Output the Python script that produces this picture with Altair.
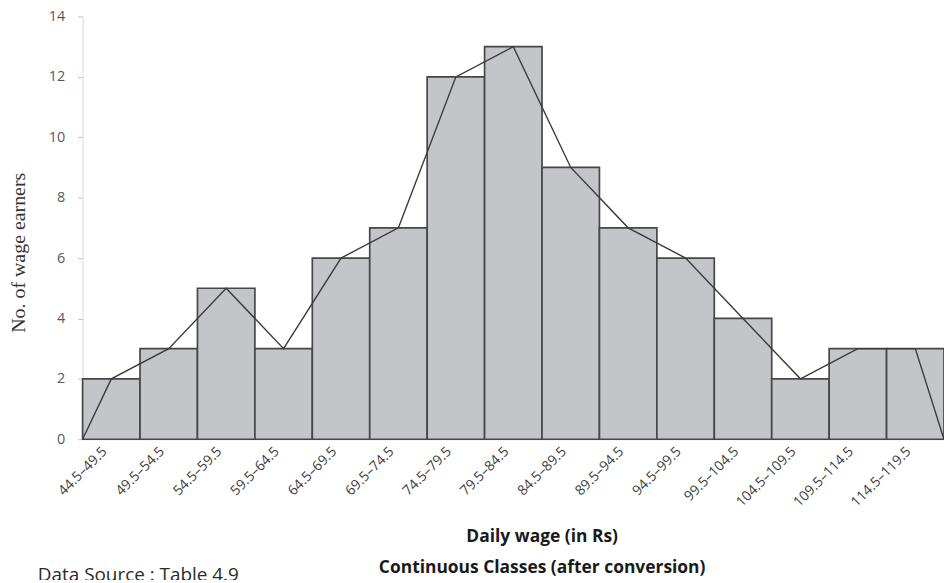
import altair as alt
import pandas as pd

lower = [44.5, 49.5, 54.5, 59.5, 64.5, 69.5, 74.5, 79.5, 84.5, 89.5, 94.5, 99.5, 104.5, 109.5, 114.5]
upper = [49.5, 54.5, 59.5, 64.5, 69.5, 74.5, 79.5, 84.5, 89.5, 94.5, 99.5, 104.5, 109.5, 114.5, 119.5]
freq = [2, 3, 5, 3, 6, 7, 12, 13, 9, 7, 6, 4, 2, 3, 3]
labels = ["44.5–49.5", "49.5–54.5", "54.5–59.5", "59.5–64.5", "64.5–69.5", "69.5–74.5",
          "74.5–79.5", "79.5–84.5", "84.5–89.5", "89.5–94.5", "94.5–99.5", "99.5–104.5",
          "104.5–109.5", "109.5–114.5", "114.5–119.5"]

mids = [(a + b) / 2 for a, b in zip(lower, upper)]
bars_df = pd.DataFrame({"lo": lower, "hi": upper, "f": freq, "mid": mids})

poly_x = [lower[0]] + mids + [upper[-1]]
poly_y = [0] + freq + [0]
poly_df = pd.DataFrame({"x": poly_x, "y": poly_y, "o": list(range(len(poly_x)))})

label_expr = ("[" + ",".join("'%s'" % l for l in labels) + "][indexof(["
              + ",".join(repr(m) for m in mids) + "], datum.value)]")

xscale = alt.Scale(domain=[lower[0], upper[-1]], nice=False, zero=False, padding=0)
yscale = alt.Scale(domain=[0, 14], nice=False)

xaxis = alt.Axis(values=mids, labelExpr=label_expr, labelAngle=-45, ticks=False,
                 grid=False, domainColor="#d9d9d9", labelColor="#404040",
                 labelFont="Open Sans", labelFontSize=14, labelPadding=5, title=None,
                 labelOverlap=False, labelBound=False, labelOffset=-12)
yaxis = alt.Axis(values=list(range(0, 15, 2)), grid=False, domainColor="#d9d9d9",
                 tickColor="#bfbfbf", tickSize=5, labelColor="#595959",
                 labelFont="Open Sans", labelFontSize=14.5, labelPadding=13,
                 title="No. of wage earners", titleFont="Liberation Serif",
                 titleFontSize=20, titleFontWeight="normal", titleColor="#333333",
                 titleX=-54, titleY=237, titleAngle=-90, titleAlign="center",
                 titleBaseline="bottom")

bars = alt.Chart(bars_df).mark_bar(fill="#c4c5c9", stroke="#474747", strokeWidth=1.7,
                                    orient="vertical").encode(
    x=alt.X("lo:Q", scale=xscale, axis=xaxis),
    x2="hi:Q",
    y=alt.Y("f:Q", scale=yscale, axis=yaxis),
    y2=alt.datum(0),
)

line = alt.Chart(poly_df).mark_line(color="#3a3a3a", strokeWidth=1.4).encode(
    x=alt.X("x:Q", scale=xscale),
    y=alt.Y("y:Q", scale=yscale),
    order="o:Q",
)

title_font = "Liberation Sans Narrow, Open Sans"
t1 = alt.Chart(pd.DataFrame({"t": ["Daily wage (in Rs)"]})).mark_text(
    font=title_font, fontSize=17.5, fontWeight="bold", color="#1a1a1a",
    align="center", baseline="middle"
).encode(text="t:N", x=alt.value(462), y=alt.value(523))
t2 = alt.Chart(pd.DataFrame({"t": ["Continuous Classes (after conversion)"]})).mark_text(
    font=title_font, fontSize=17.5, fontWeight="bold", color="#1a1a1a",
    align="center", baseline="middle"
).encode(text="t:N", x=alt.value(462), y=alt.value(554))

source = alt.Chart(pd.DataFrame({"t": ["Data Source : Table 4.9"]})).mark_text(
    font="Open Sans", fontSize=19, color="#2b2b2b", align="left", baseline="middle"
).encode(text="t:N", x=alt.value(-45), y=alt.value(562))

chart = alt.layer(bars, line, t1, t2, source).properties(
    width=866, height=425,
    autosize=alt.AutoSizeParams(type="none"),
    padding={"left": 75, "top": 7, "right": 0, "bottom": 140},
).configure_view(stroke=None)

chart.save("out.html", embed_options={"renderer": "svg", "actions": False})
